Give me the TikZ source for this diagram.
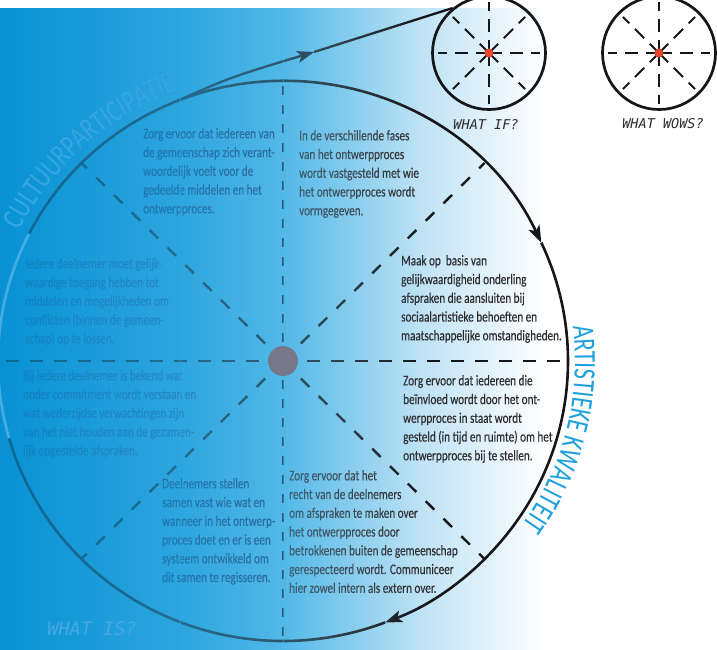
\documentclass[tikz,border=0pt]{standalone}
\usepackage{fontspec}
\usetikzlibrary{arrows.meta,fadings,decorations.text}

\newfontfamily\narrowfont[FakeStretch=0.76,FakeBold=0.3]{Carlito}
\newfontfamily\labelfont[FakeStretch=0.74]{Carlito}
\newfontfamily\typefont{DejaVu Sans Mono}

\definecolor{bgA}{RGB}{8,146,212}
\definecolor{bgB}{RGB}{45,165,222}
\definecolor{bgC}{RGB}{82,184,231}
\definecolor{bgD}{RGB}{190,226,244}
\definecolor{inkgray}{RGB}{45,45,48}
\definecolor{inknavy}{RGB}{20,52,105}
\definecolor{inkveil}{RGB}{30,96,156}
\definecolor{ringblack}{RGB}{20,22,26}
\definecolor{dotgray}{RGB}{118,120,138}
\definecolor{dotred}{RGB}{232,70,45}
\definecolor{kwalblue}{RGB}{30,160,220}
\definecolor{cultblue}{RGB}{55,165,225}
\definecolor{isblue}{RGB}{70,168,225}
\definecolor{rimlight}{RGB}{70,172,228}

\tikzfading[name=fadeA, left color=transparent!34, right color=transparent!40]
\tikzfading[name=fadeB, left color=transparent!40, right color=transparent!60]
\tikzfading[name=fadeC, left color=transparent!60, right color=transparent!100]

\tikzset{
  blocktext/.style={anchor=north west, align=left, inner sep=0pt, text=inkgray,
    font=\narrowfont\fontsize{14.7}{18.75}\selectfont},
  fadedtext/.style={blocktext, text=inknavy},
  veiltext/.style={blocktext, text=inkveil},
  spokeh/.style={ringblack, line width=2.4pt, dash pattern=on 13pt off 11pt},
  spokev/.style={ringblack, line width=2.4pt, dash pattern=on 9pt off 10pt},
  spoked/.style={ringblack, line width=2.4pt, dash pattern=on 12pt off 13pt},
  rim/.style={ringblack, line width=2.6pt},
  rimarrow/.style={-{Stealth[length=17pt,width=12pt,inset=4pt]}},
  smallring/.style={circle, draw=ringblack, line width=2.7pt, minimum size=113pt, inner sep=0pt},
  smallspoke/.style={ringblack, line width=2pt, dash pattern=on 13pt off 8pt},
  whatlabel/.style={inner sep=0pt, text=inkgray, font=\typefont\itshape\fontsize{13.5}{16}\selectfont},
}

\begin{document}
\begin{tikzpicture}[x=1pt, y=-1pt]
  \useasboundingbox (0,0) rectangle (717,650);
  \clip (0,0) rectangle (717,650);

  % background gradient
  \shade[left color=bgA, right color=bgB] (0,9) rectangle (180.5,650);
  \shade[left color=bgB, right color=bgC] (180,9) rectangle (283.5,650);
  \shade[left color=bgC, right color=bgD] (283,9) rectangle (420.5,650);
  \shade[left color=bgD, right color=white] (420,9) rectangle (545,650);

  \coordinate (hub) at (283,361);
  \path (hub) ++(-112:285 and 280) coordinate (depart);
  \path (hub) ++(-25:285 and 280) coordinate (tipA);
  \path (hub) ++(69:285 and 280) coordinate (tipB);
  \path (hub) ++(164:285 and 280) coordinate (lightA);
  \path (hub) ++(207:285 and 280) coordinate (lightB);
  \coordinate (arrowpt) at (314,52);

  % dashed spokes
  \draw[spokeh] (hub) -- ++(285,0);
  \draw[spokeh] (hub) -- ++(-285,0);
  \draw[spokev] (hub) -- ++(0,-280);
  \draw[spokev] (hub) -- ++(0,280);
  \foreach \a in {45,135,225,315}
    \draw[spoked] (hub) -- ++(\a:285 and 280);

  % main ring
  \draw[rim, rimarrow] (depart) arc[start angle=-112, end angle=-25, x radius=285, y radius=280];
  \draw[rim, rimarrow] (tipA) arc[start angle=-25, end angle=69, x radius=285, y radius=280];
  \draw[rim] (tipB) arc[start angle=69, end angle=164, x radius=285, y radius=280];
  \draw[rim] (lightB) arc[start angle=207, end angle=248, x radius=285, y radius=280];

  % small rings
  \node[smallring] (ifring) at (489,53) {};
  \node[smallring] (wowring) at (659,53) {};
  \foreach \c in {ifring,wowring} {
    \foreach \a in {0,45,...,315}
      \draw[smallspoke] (\c.center) -- ++(\a:51);
    \fill[dotred] (\c.center) circle (4.5);
  }
  \node[whatlabel] (iflbl) at (486,124) {WHAT IF?};
  \node[whatlabel] (wowlbl) at (663,124) {WHAT WOWS?};

  % line out to the what-if ring
  \draw[rim, line width=2.3pt, rimarrow] (depart) .. controls (231,77) .. (arrowpt);
  \draw[rim, line width=2.3pt] (arrowpt) -- (ifring.129);

  % texts in the sectors
  \node[fadedtext] (partblock) at (143,125) {\strut Zorg ervoor dat iedereen van\\de gemeenschap zich verant-\\woordelijk voelt voor de\\gedeelde middelen en het\\ontwerpproces.};
  \node[blocktext] (phaseblock) at (299,127) {\strut In de verschillende fases\\van het ontwerpproces\\wordt vastgesteld met wie\\het ontwerpproces wordt\\vormgegeven.};
  \node[blocktext] (equalblock) at (401,252) {\strut Maak op\ \ basis van\\gelijkwaardigheid onderling\\afspraken die aansluiten bij\\sociaalartistieke behoeften en\\maatschappelijke omstandigheden.};
  \node[blocktext] (impactblock) at (403,372) {\strut Zorg ervoor dat iedereen die\\beïnvloed wordt door het ont-\\werpproces in staat wordt\\gesteld (in tijd en ruimte) om het\\ontwerpproces bij te stellen.};
  \node[blocktext] (rightsblock) at (289,467) {\strut Zorg ervoor dat het\\recht van de deelnemers\\om afspraken te maken over\\het ontwerpproces door\\betrokkenen buiten de gemeenschap\\gerespecteerd wordt. Communiceer\\hier zowel intern als extern over.};
  \node[fadedtext] (roleblock) at (162,475) {\strut Deelnemers stellen\\samen vast wie wat en\\wanneer in het ontwerp-\\proces doet en er is een\\systeem ontwikkeld om\\dit samen te regisseren.};
  \node[veiltext] (commitblock) at (23,367) {\strut Bij iedere deelnemer is bekend wat\\onder commitment wordt verstaan en\\wat wederzijdse verwachtingen zijn\\van het niet houden aan de gezamen-\\lijk opgestelde afspraken.};
  \node[veiltext] (accessblock) at (25,255) {\strut Iedere deelnemer moet gelijk-\\waardige toegang hebben tot\\middelen en mogelijkheden om\\conflicten (binnen de gemeen-\\schap) op te lossen.};

  % blue veil over the left side
  \shade[left color=bgA, right color=bgB, path fading=fadeA] (0,9) rectangle (180.5,650);
  \shade[left color=bgB, right color=bgC, path fading=fadeB] (180,9) rectangle (283.5,650);
  \shade[left color=bgC, right color=bgD, path fading=fadeC] (283,9) rectangle (420,650);

  \node[circle, fill=dotgray, minimum size=30pt, inner sep=0pt] (hubdot) at (hub) {};
  \draw[rim, draw=rimlight] (lightA) arc[start angle=164, end angle=207, x radius=285, y radius=280];

  % curved labels
  \path (hub) ++(-175:295 and 290) coordinate (cultstart);
  \path[decorate, decoration={text along path, text align=right,
      text={|\labelfont\fontsize{31}{31}\selectfont\color{cultblue}|CULTUURPARTICIPATIE}}]
    (cultstart) arc[start angle=-175, end angle=-111, x radius=295, y radius=290];
  \path (hub) ++(-7:292 and 287) coordinate (kwalstart);
  \path[decorate, decoration={text along path,
      text={|\labelfont\fontsize{31}{31}\selectfont\color{kwalblue}|ARTISTIEKE KWALITEIT}}]
    (kwalstart) arc[start angle=-7, end angle=45, x radius=292, y radius=287];

  \node[whatlabel, text=isblue, font=\typefont\itshape\fontsize{18.5}{20}\selectfont] (islbl) at (92,629) {WHAT IS?};
\end{tikzpicture}
\end{document}
